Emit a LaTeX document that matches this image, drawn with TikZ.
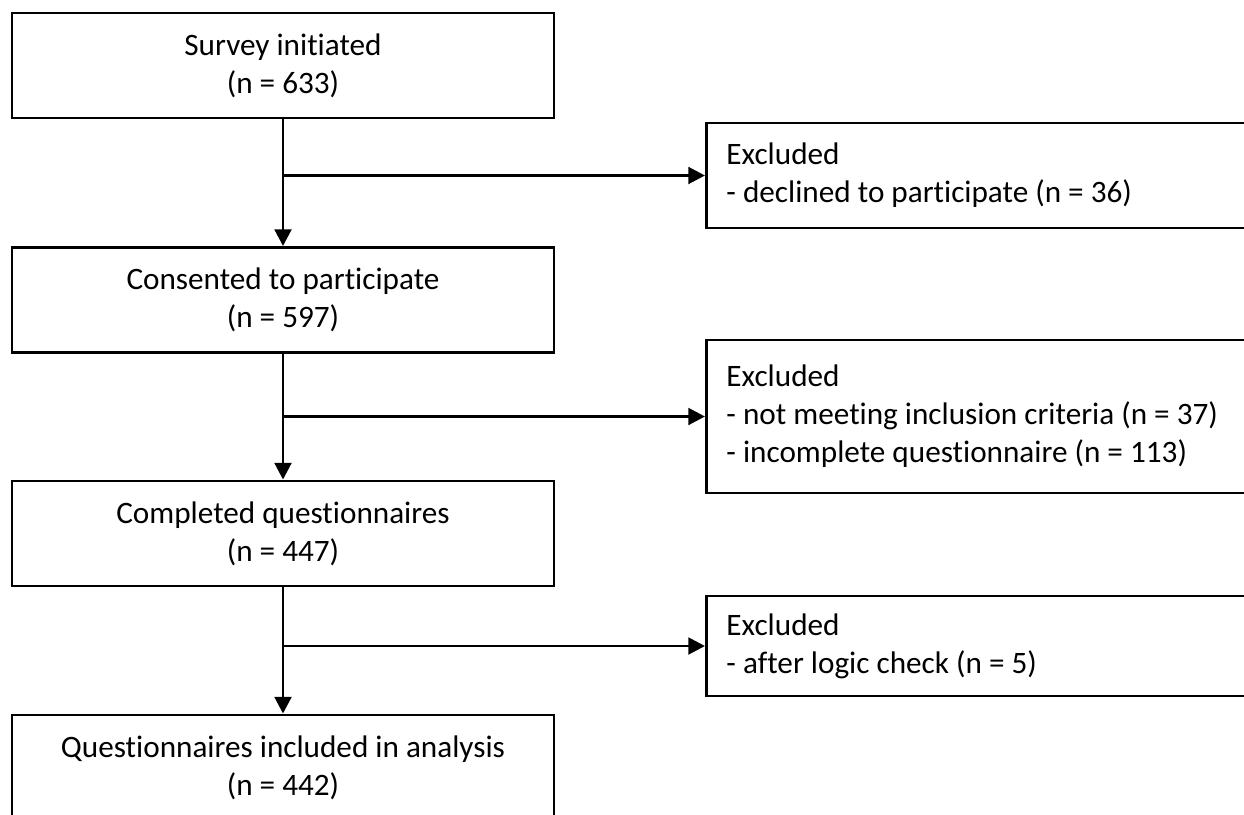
\documentclass[tikz,border=0pt]{standalone}
\usepackage{fontspec}
\setmainfont[Ligatures=NoCommon]{Carlito}
\usetikzlibrary{arrows.meta}
\begin{document}
\begin{tikzpicture}[x=0.75pt,y=-0.75pt,
  every node/.style={font=\fontsize{23.4pt}{28.5pt}\selectfont},
  mainbox/.style={draw,line width=2.2pt,minimum width=542*0.75pt,minimum height=105*0.75pt,align=center,inner sep=0pt},
  sidebox/.style={draw,line width=2.2pt,anchor=west,minimum width=600*0.75pt,text width=560*0.75pt,align=flush left,inner xsep=20*0.75pt,inner ysep=0pt},
  conn/.style={line width=2.2pt,-{Triangle[length=12.5pt,width=12.5pt]}}]
\clip (0,0) rectangle (1244,814);
\fill[white] (0,0) rectangle (1244,814);
\node[mainbox] (b1) at (283,65.5) {Survey initiated\\(n = 633)};
\node[mainbox] (b2) at (283,300) {Consented to participate\\(n = 597)};
\node[mainbox] (b3) at (283,533.5) {Completed questionnaires\\(n = 447)};
\node[mainbox] (b4) at (283,767.5) {Questionnaires included in analysis\\(n = 442)};
\node[sidebox,minimum height=105*0.75pt] (r1) at (705,175.5) {Excluded\\- declined to participate (n = 36)};
\node[sidebox,minimum height=153*0.75pt] (r2) at (705,416.5) {Excluded\\- not meeting inclusion criteria (n = 37)\\- incomplete questionnaire (n = 113)};
\node[sidebox,minimum height=100*0.75pt] (r3) at (705,646) {Excluded\\- after logic check (n = 5)};
\coordinate (j1) at (b1.south |- r1.west);
\coordinate (j2) at (b2.south |- r2.west);
\coordinate (j3) at (b3.south |- r3.west);
\draw[conn] (b1.south) -- (b2.north);
\draw[conn] (b2.south) -- (b3.north);
\draw[conn] (b3.south) -- (b4.north);
\draw[conn] (j1) -- (r1.west);
\draw[conn] (j2) -- (r2.west);
\draw[conn] (j3) -- (r3.west);
\end{tikzpicture}
\end{document}
